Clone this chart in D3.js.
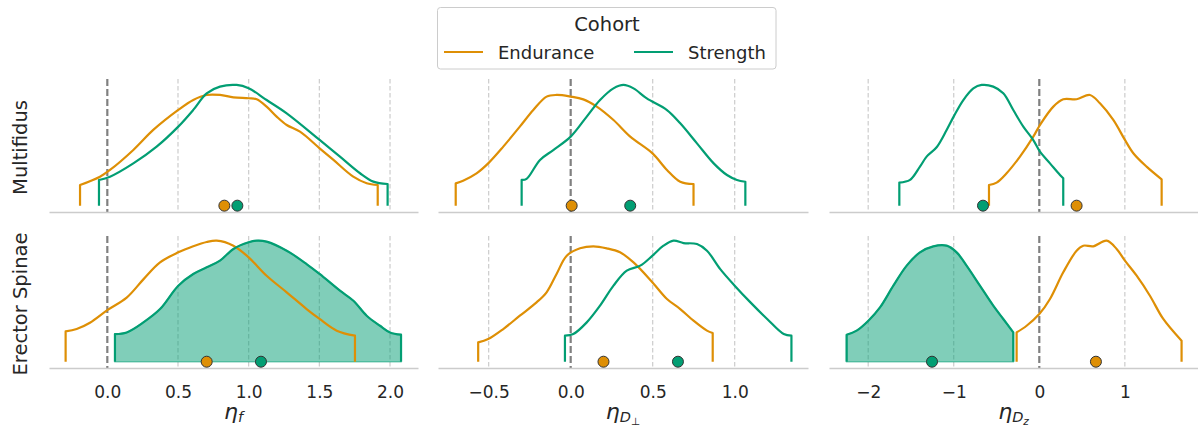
<!DOCTYPE html>
<html>
<head>
<meta charset="utf-8">
<script src="https://cdn.jsdelivr.net/npm/d3@7"></script>
<style>
  body { margin: 0; background: #fff; }
  svg { display: block; font-family: "DejaVu Sans", sans-serif; }
</style>
</head>
<body>
<svg id="chart" width="1198" height="432"></svg>
<script>
// Posterior densities of the eta effects, per muscle (rows) and parameter (columns)

const muscles = ["Multifidus", "Erector Spinae"];
const cohorts = ["Endurance", "Strength"];
const params = ["f", "Dperp", "Dz"];

// tick values per column
const ticksF = [0, 0.5, 1, 1.5, 2];
const ticksDperp = [-0.5, 0, 0.5, 1];
const ticksDz = [-2, -1, 0, 1];

// density curves: [eta, relative density]
const mfEndF = [[-0.193,0.163],[-0.052,0.229],[0.019,0.282],[0.184,0.44],[0.325,0.598],[0.502,0.756],[0.608,0.835],[0.703,0.874],[0.797,0.874],[0.892,0.855],[1.0,0.848],[1.057,0.84],[1.127,0.782],[1.198,0.703],[1.269,0.637],[1.363,0.584],[1.502,0.453],[1.6,0.361],[1.74,0.229],[1.835,0.177],[1.913,0.163]];
const mfStrF = [[-0.059,0.203],[0.019,0.229],[0.184,0.334],[0.349,0.466],[0.502,0.624],[0.608,0.756],[0.703,0.887],[0.797,0.94],[0.915,0.953],[1.0,0.927],[1.127,0.834],[1.269,0.729],[1.502,0.519],[1.646,0.387],[1.788,0.256],[1.882,0.19],[1.983,0.171]];
const mfEndDperp = [[-0.701,0.176],[-0.656,0.197],[-0.574,0.255],[-0.503,0.334],[-0.411,0.466],[-0.31,0.624],[-0.228,0.755],[-0.147,0.861],[-0.086,0.874],[0,0.861],[0.077,0.839],[0.159,0.782],[0.261,0.676],[0.363,0.545],[0.499,0.413],[0.587,0.282],[0.668,0.189],[0.749,0.171]];
const mfStrDperp = [[-0.299,0.203],[-0.269,0.211],[-0.187,0.361],[-0.106,0.439],[0,0.545],[0.098,0.703],[0.179,0.834],[0.261,0.926],[0.322,0.953],[0.383,0.926],[0.464,0.847],[0.587,0.755],[0.668,0.65],[0.77,0.492],[0.872,0.334],[0.953,0.242],[1.014,0.203],[1.065,0.189]];
const mfEndDz = [[-0.588,0.163],[-0.499,0.182],[-0.382,0.256],[-0.226,0.387],[-0.07,0.545],[0.008,0.637],[0.164,0.782],[0.28,0.84],[0.436,0.84],[0.592,0.874],[0.709,0.808],[0.865,0.677],[1.001,0.519],[1.099,0.414],[1.254,0.308],[1.43,0.208]];
const mfStrDz = [[-1.636,0.182],[-1.511,0.203],[-1.395,0.308],[-1.317,0.387],[-1.2,0.461],[-1.083,0.597],[-1.001,0.703],[-0.888,0.834],[-0.771,0.926],[-0.674,0.953],[-0.538,0.94],[-0.421,0.887],[-0.304,0.755],[-0.187,0.624],[-0.07,0.518],[0.008,0.426],[0.125,0.334],[0.242,0.242],[0.28,0.216]];
const esEndF = [[-0.295,0.241],[-0.217,0.26],[-0.123,0.31],[0,0.41],[0.137,0.51],[0.255,0.655],[0.373,0.79],[0.502,0.87],[0.608,0.918],[0.703,0.952],[0.774,0.963],[0.892,0.923],[1.0,0.83],[1.127,0.684],[1.269,0.552],[1.41,0.419],[1.502,0.34],[1.623,0.247],[1.752,0.207]];
const esStrF = [[0.054,0.22],[0.137,0.233],[0.255,0.313],[0.373,0.419],[0.502,0.605],[0.608,0.698],[0.703,0.751],[0.797,0.804],[0.892,0.897],[1.0,0.95],[1.057,0.963],[1.127,0.955],[1.269,0.883],[1.41,0.777],[1.502,0.698],[1.646,0.565],[1.741,0.485],[1.835,0.366],[1.929,0.286],[2.0,0.233],[2.078,0.215]];
const esEndDperp = [[-0.564,0.154],[-0.503,0.18],[-0.411,0.26],[-0.31,0.366],[-0.208,0.472],[-0.147,0.552],[-0.086,0.698],[-0.024,0.843],[0.057,0.902],[0.138,0.918],[0.22,0.902],[0.301,0.87],[0.383,0.79],[0.499,0.631],[0.587,0.499],[0.668,0.419],[0.749,0.326],[0.831,0.247],[0.866,0.228]];
const esStrDperp = [[-0.035,0.207],[0.016,0.22],[0.098,0.313],[0.179,0.446],[0.261,0.605],[0.342,0.724],[0.424,0.764],[0.499,0.844],[0.566,0.923],[0.627,0.963],[0.688,0.944],[0.77,0.936],[0.831,0.883],[0.912,0.737],[1.0,0.605],[1.096,0.472],[1.198,0.34],[1.299,0.22],[1.346,0.207]];
const esEndDz = [[-0.265,0.233],[-0.148,0.286],[0,0.379],[0.125,0.499],[0.28,0.711],[0.436,0.883],[0.514,0.923],[0.631,0.918],[0.787,0.963],[0.904,0.897],[1.001,0.804],[1.138,0.684],[1.293,0.525],[1.449,0.34],[1.663,0.167]];
const esStrDz = [[-2.252,0.215],[-2.135,0.247],[-1.998,0.326],[-1.862,0.432],[-1.706,0.605],[-1.55,0.764],[-1.395,0.87],[-1.239,0.918],[-1.083,0.923],[-0.966,0.87],[-0.85,0.764],[-0.694,0.605],[-0.538,0.446],[-0.421,0.34],[-0.304,0.233]];

// posterior means (rows: muscles, cols: params)
const meansEndurance = [[0.828, 0.006, 0.436], [0.703, 0.2, 0.662]];
const meansStrength = [[0.92, 0.363, -0.658], [1.087, 0.654, -1.254]];

// which strength densities are shaded
const shadedStrength = [[false, false, false], [true, false, true]];

// Layout
const colors = { Endurance: "#de8f05", Strength: "#029e73" };
const colBox = [[49, 418], [438, 808], [829, 1198]];
const rowBox = [[79, 212], [236, 368]];
const colDomain = [[-0.4126, 2.198], [-0.809, 1.447], [-2.458, 1.855]];
const colTicks = [ticksF, ticksDperp, ticksDz];
const colFormat = [d3.format(".1f"), d3.format(".1f"), d3.format("d")];

const curves = [
  [[mfEndF, mfStrF], [mfEndDperp, mfStrDperp], [mfEndDz, mfStrDz]],
  [[esEndF, esStrF], [esEndDperp, esStrDperp], [esEndDz, esStrDz]]
];

const svg = d3.select("#chart");
const textColor = "#262626";

muscles.forEach((muscle, r) => {
  const [top, bottom] = rowBox[r];
  const y = d3.scaleLinear().domain([-0.05, 1]).range([bottom, top]);

  params.forEach((param, c) => {
    const [left, right] = colBox[c];
    const x = d3.scaleLinear().domain(colDomain[c]).range([left, right]);
    const g = svg.append("g");

    // dashed grid at tick positions
    g.selectAll(".grid")
      .data(colTicks[c].filter(t => t !== 0))
      .join("line")
        .attr("x1", d => x(d)).attr("x2", d => x(d))
        .attr("y1", top).attr("y2", bottom)
        .attr("stroke", "#cccccc")
        .attr("stroke-width", 1.2)
        .attr("stroke-dasharray", "4.5,2.5");

    // zero reference line
    g.append("line")
      .attr("x1", x(0)).attr("x2", x(0))
      .attr("y1", top).attr("y2", bottom)
      .attr("stroke", "#808080")
      .attr("stroke-width", 2.2)
      .attr("stroke-dasharray", "7,3");

    // x axis (baseline)
    const axis = d3.axisBottom(x)
      .tickValues(colTicks[c])
      .tickFormat(colFormat[c])
      .tickSize(0)
      .tickSizeOuter(0)
      .tickPadding(18);

    const ax = g.append("g")
      .attr("transform", `translate(0,${bottom})`)
      .call(axis);
    ax.select(".domain").attr("stroke", "#cccccc").attr("stroke-width", 1.6);
    ax.selectAll(".tick text")
      .attr("font-size", 17)
      .attr("font-family", "DejaVu Sans")
      .attr("fill", textColor);
    if (r === 0) ax.selectAll(".tick text").remove();

    const line = d3.line()
      .x(d => x(d[0]))
      .y(d => y(d[1]))
      .curve(d3.curveCatmullRom.alpha(0.5));

    const area = d3.area()
      .x(d => x(d[0]))
      .y0(y(0))
      .y1(d => y(d[1]))
      .curve(d3.curveCatmullRom.alpha(0.5));

    // shaded areas first, so every outline sits on top
    cohorts.forEach((cohort, k) => {
      if (cohort === "Strength" && shadedStrength[r][c]) {
        g.append("path")
          .attr("d", area(curves[r][c][k]))
          .attr("fill", colors[cohort])
          .attr("fill-opacity", 0.5)
          .attr("stroke", colors[cohort])
          .attr("stroke-opacity", 0.5)
          .attr("stroke-width", 1.5);
      }
    });

    cohorts.forEach((cohort, k) => {
      const pts = curves[r][c][k];
      const first = pts[0], last = pts[pts.length - 1];
      // curve with vertical drops at the cut ends
      const d = `M${x(first[0])},${y(0)}` + line(pts).replace(/^M/, "L") + `L${x(last[0])},${y(0)}`;
      g.append("path")
        .attr("d", d)
        .attr("fill", "none")
        .attr("stroke", colors[cohort])
        .attr("stroke-width", 2.2)
        .attr("stroke-linejoin", "round");
    });

    // posterior means
    const means = [meansEndurance[r][c], meansStrength[r][c]];
    g.selectAll(".mean")
      .data(means)
      .join("circle")
        .attr("cx", d => x(d))
        .attr("cy", y(0))
        .attr("r", 5.5)
        .attr("fill", (d, i) => colors[cohorts[i]])
        .attr("stroke", "#333")
        .attr("stroke-width", 1);

    // x labels on bottom row
    if (r === 1) {
      const lbl = svg.append("text")
        .attr("x", (left + right) / 2)
        .attr("y", 419)
        .attr("text-anchor", "middle")
        .attr("fill", textColor)
        .attr("font-style", "italic")
        .attr("font-size", 22);
      lbl.append("tspan").text("η");
      if (param === "f") {
        lbl.append("tspan").attr("font-size", 14.5).attr("dy", 3).text("f");
      } else {
        lbl.append("tspan").attr("font-size", 14.5).attr("dy", 3).text("D");
        lbl.append("tspan").attr("font-size", 10.5).attr("dy", 3).attr("font-style", param === "Dz" ? "italic" : "normal")
          .text(param === "Dz" ? "z" : "⊥");
      }
    }
  });

  // row label
  svg.append("text")
    .attr("transform", `translate(21,${(top + bottom) / 2 + 2}) rotate(-90)`)
    .attr("text-anchor", "middle")
    .attr("dominant-baseline", "middle")
    .attr("font-size", 19.5)
    .attr("fill", textColor)
    .text(muscle);
});

// Legend
const legend = svg.append("g");
legend.append("rect")
  .attr("x", 437.5).attr("y", 7.5)
  .attr("width", 338.5).attr("height", 61.5)
  .attr("rx", 3)
  .attr("fill", "#fff")
  .attr("stroke", "#cccccc")
  .attr("stroke-width", 1);

legend.append("text")
  .attr("x", 607).attr("y", 30.5)
  .attr("text-anchor", "middle")
  .attr("font-size", 19.5)
  .attr("fill", textColor)
  .text("Cohort");

const legendX = [444, 634];
cohorts.forEach((cohort, i) => {
  legend.append("line")
    .attr("x1", legendX[i]).attr("x2", legendX[i] + 39)
    .attr("y1", 52).attr("y2", 52)
    .attr("stroke", colors[cohort])
    .attr("stroke-width", 2.2);
  legend.append("text")
    .attr("x", legendX[i] + 54).attr("y", 58.5)
    .attr("font-size", 18)
    .attr("fill", textColor)
    .text(cohort);
});
</script>
</body>
</html>
